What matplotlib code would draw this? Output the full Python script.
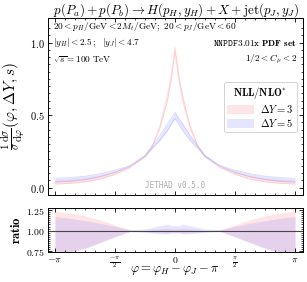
import numpy as np
import matplotlib
matplotlib.use("Agg")
import matplotlib.pyplot as plt
from matplotlib.patches import Patch

plt.rcParams["mathtext.fontset"] = "cm"
plt.rcParams["font.family"] = "serif"
plt.rcParams["font.serif"] = ["DejaVu Serif"]

# azimuthal angle, in units of pi
phi_pi = [-1, -0.875, -0.75, -0.625, -0.5, -0.375, -0.25, -0.1875, -0.125, -0.0625, -0.03125, 0,
          0.03125, 0.0625, 0.125, 0.1875, 0.25, 0.375, 0.5, 0.625, 0.75, 0.875, 1]

# central values, DY = 3 and DY = 5
dy3 = [0.035, 0.040, 0.050, 0.068, 0.098, 0.140, 0.215, 0.290, 0.420, 0.620, 0.760, 0.950,
       0.760, 0.620, 0.420, 0.290, 0.215, 0.140, 0.098, 0.068, 0.050, 0.040, 0.035]
dy5 = [0.055, 0.060, 0.070, 0.088, 0.114, 0.150, 0.220, 0.280, 0.340, 0.410, 0.450, 0.490,
       0.450, 0.410, 0.340, 0.280, 0.220, 0.150, 0.114, 0.088, 0.070, 0.060, 0.055]

# scale-variation ratio bands
dy3_hi = [1.24, 1.21, 1.18, 1.13, 1.07, 1.01, 1.00, 1.01, 1.02, 1.03, 1.02, 1.02,
          1.02, 1.03, 1.02, 1.01, 1.00, 1.01, 1.07, 1.13, 1.18, 1.21, 1.24]
dy3_lo = [0.70, 0.74, 0.79, 0.86, 0.93, 0.99, 0.99, 0.98, 0.98, 0.97, 0.98, 0.98,
          0.98, 0.97, 0.98, 0.98, 0.99, 0.99, 0.93, 0.86, 0.79, 0.74, 0.70]
dy5_hi = [1.17, 1.15, 1.12, 1.09, 1.05, 1.01, 1.02, 1.04, 1.06, 1.08, 1.06, 1.06,
          1.06, 1.08, 1.06, 1.04, 1.02, 1.01, 1.05, 1.09, 1.12, 1.15, 1.17]
dy5_lo = [0.70, 0.73, 0.78, 0.85, 0.92, 0.99, 0.98, 0.97, 0.96, 0.96, 0.97, 0.97,
          0.97, 0.96, 0.96, 0.97, 0.98, 0.99, 0.92, 0.85, 0.78, 0.73, 0.70]

x = np.array(phi_pi) * np.pi
series = [
    (np.array(dy3), np.array(dy3_lo), np.array(dy3_hi), "#ff9999", r"$\Delta Y = 3$"),
    (np.array(dy5), np.array(dy5_lo), np.array(dy5_hi), "#9999ff", r"$\Delta Y = 5$"),
]

fig = plt.figure(figsize=(3.07, 2.82), dpi=100)
ax = fig.add_axes([0.156, 0.309, 0.831, 0.627])
axr = fig.add_axes([0.156, 0.106, 0.831, 0.156])

handles = []
for y, lo, hi, col, lab in series:
    ax.fill_between(x, y * lo, y * hi, color=col, alpha=0.25, lw=0)
    ax.plot(x, y * lo, color=col, alpha=0.35, lw=0.6)
    ax.plot(x, y * hi, color=col, alpha=0.35, lw=0.6)
    axr.fill_between(x, lo, hi, color=col, alpha=0.25, lw=0)
    handles.append(Patch(facecolor=col, alpha=0.25, edgecolor="none", label=lab))

axr.axhline(1.0, color="#444444", lw=0.8)

xmin, xmax = -3.325, 3.35
ax.set_xlim(xmin, xmax)
axr.set_xlim(xmin, xmax)
ax.set_ylim(-0.05, 1.17)
axr.set_ylim(0.738, 1.274)

xt = [-np.pi, -np.pi / 2, 0, np.pi / 2, np.pi]
for a in (ax, axr):
    a.set_xticks(xt)
    a.set_xticks(np.arange(-np.pi, np.pi + 0.01, np.pi / 12), minor=True)
    a.tick_params(which="both", direction="in", top=True, right=True, labelsize=7.5, pad=2)
    a.tick_params(which="major", length=3, width=0.6)
    a.tick_params(which="minor", length=1.5, width=0.5)
    for s in a.spines.values():
        s.set_linewidth(0.7)
ax.set_xticklabels([])
axr.set_xticklabels([r"$-\pi$", r"$\frac{-\pi}{2}$", r"$0$", r"$\frac{\pi}{2}$", r"$\pi$"], fontsize=7)

ax.set_yticks([0.0, 0.5, 1.0])
ax.set_yticks(np.arange(0, 1.15, 0.05), minor=True)
ax.set_yticklabels([r"$\mathbf{0.0}$", r"$\mathbf{0.5}$", r"$\mathbf{1.0}$"])
axr.set_yticks([0.75, 1.0, 1.25])
axr.set_yticks(np.arange(0.75, 1.26, 0.025), minor=True)
axr.set_yticklabels([r"$\mathbf{0.75}$", r"$\mathbf{1.00}$", r"$\mathbf{1.25}$"], fontsize=7)

ax.set_ylabel(r"$\frac{1}{\sigma}\frac{\mathrm{d}\sigma}{\mathrm{d}\varphi}(\varphi,\Delta Y,s)$",
              fontsize=11, labelpad=2)
axr.set_ylabel(r"$\mathbf{ratio}$", fontsize=9, labelpad=2)
fig.text(0.57, 0.042, r"$\varphi = \varphi_H - \varphi_J - \pi$", fontsize=9,
         ha="center", va="center")

fig.text(0.575, 0.965, r"$p(P_a) + p(P_b) \rightarrow H(p_H, y_H) + X + \mathrm{jet}(p_J, y_J)$",
         fontsize=9.4, ha="center", va="center")

fs = 6.7
ax.text(0.02, 0.95, r"$20 < p_H/\mathrm{GeV} < 2M_t/\mathrm{GeV};\ 20 < p_J/\mathrm{GeV} < 60$",
        transform=ax.transAxes, fontsize=fs, va="center")
ax.text(0.02, 0.86, r"$|y_H| < \mathbf{2.5}\,;\ \ |y_J| < \mathbf{4.7}$",
        transform=ax.transAxes, fontsize=fs, va="center")
ax.text(0.02, 0.765, r"$\sqrt{s} = 100\ \mathrm{TeV}$",
        transform=ax.transAxes, fontsize=fs, va="center")
ax.text(0.975, 0.86, r"$\mathtt{NNPDF3.01x}\ \mathbf{PDF\ set}$",
        transform=ax.transAxes, fontsize=fs, va="center", ha="right")
ax.text(0.975, 0.765, r"$1/2 < C_\mu < 2$",
        transform=ax.transAxes, fontsize=fs, va="center", ha="right")
ax.text(0.5, 0.025, "JETHAD v0.5.0", transform=ax.transAxes, fontsize=5.5,
        family="DejaVu Sans Mono", color="#aaaaaa", ha="center", va="bottom")

leg = ax.legend(handles=handles, title=r"$\mathbf{NLL/NLO^{*}}$", loc="upper right",
                bbox_to_anchor=(0.975, 0.64), fontsize=7.5, title_fontsize=7.5,
                handlelength=2.6, handleheight=1.0, framealpha=1, edgecolor="#cccccc",
                borderpad=0.3, labelspacing=0.2, handletextpad=0.6, borderaxespad=0)
leg.get_frame().set_linewidth(0.6)

fig.savefig("out.png", dpi=100)
